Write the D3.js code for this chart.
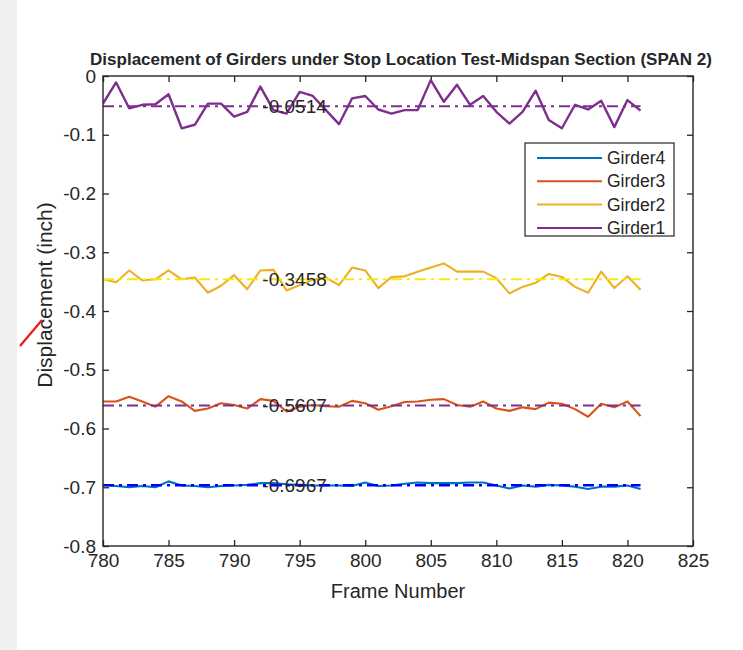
<!DOCTYPE html>
<html>
<head>
<meta charset="utf-8">
<script src="https://cdn.jsdelivr.net/npm/d3@7"></script>
<style>
  body { margin: 0; background: #ffffff; }
  svg text { font-family: "Liberation Sans", Arial, Helvetica, sans-serif; fill: #262626; }
</style>
</head>
<body>
<svg id="chart" width="743" height="650"></svg>
<script>
// Frame numbers sampled at the midspan section
const frames = [780, 781, 782, 783, 784, 785, 786, 787, 788, 789, 790, 791, 792, 793,
                794, 795, 796, 797, 798, 799, 800, 801, 802, 803, 804, 805, 806, 807,
                808, 809, 810, 811, 812, 813, 814, 815, 816, 817, 818, 819, 820, 821];

// Displacement (inch) per girder
const girder1 = [-0.047, -0.011, -0.055, -0.049, -0.048, -0.031, -0.089, -0.083, -0.047, -0.047,
                 -0.069, -0.061, -0.018, -0.058, -0.064, -0.027, -0.034, -0.058, -0.082, -0.038,
                 -0.034, -0.057, -0.064, -0.058, -0.058, -0.007, -0.044, -0.015, -0.049, -0.034,
                 -0.061, -0.081, -0.061, -0.025, -0.075, -0.089, -0.049, -0.057, -0.042, -0.087,
                 -0.041, -0.059];
const girder2 = [-0.346, -0.351, -0.331, -0.348, -0.346, -0.331, -0.346, -0.343, -0.369, -0.357,
                 -0.339, -0.363, -0.331, -0.330, -0.365, -0.356, -0.347, -0.343, -0.356, -0.326,
                 -0.331, -0.361, -0.342, -0.341, -0.333, -0.326, -0.319, -0.333, -0.333, -0.333,
                 -0.344, -0.370, -0.359, -0.352, -0.337, -0.342, -0.359, -0.369, -0.333, -0.361,
                 -0.341, -0.364];
const girder3 = [-0.554, -0.554, -0.546, -0.554, -0.563, -0.545, -0.554, -0.570, -0.566, -0.557,
                 -0.560, -0.566, -0.550, -0.553, -0.571, -0.563, -0.560, -0.562, -0.563, -0.553,
                 -0.557, -0.568, -0.562, -0.555, -0.554, -0.551, -0.550, -0.560, -0.563, -0.554,
                 -0.566, -0.570, -0.564, -0.567, -0.556, -0.558, -0.567, -0.580, -0.558, -0.564,
                 -0.554, -0.579];
const girder4 = [-0.696, -0.698, -0.700, -0.698, -0.700, -0.690, -0.697, -0.698, -0.700, -0.698,
                 -0.697, -0.696, -0.693, -0.693, -0.695, -0.696, -0.697, -0.697, -0.697, -0.698,
                 -0.692, -0.698, -0.697, -0.694, -0.692, -0.693, -0.693, -0.693, -0.692, -0.692,
                 -0.697, -0.702, -0.697, -0.699, -0.696, -0.697, -0.699, -0.703, -0.699, -0.699,
                 -0.697, -0.703];

// Legend order and colours
const seriesNames  = ["Girder4", "Girder3", "Girder2", "Girder1"];
const seriesColors = ["#0072BD", "#D95319", "#EDB120", "#7E2F8E"];

// Mean displacement of each girder (same order as seriesNames)
const meanValues = [-0.6967, -0.5607, -0.3458, -0.0514];
const meanColors = ["#0000FF", "#7E2F8E", "#F2EA12", "#7E2F8E"];
const meanLabelFrame = 792;

// Axis ticks
const xTicks = [780, 785, 790, 795, 800, 805, 810, 815, 820, 825];
const yTicks = [-0.8, -0.7, -0.6, -0.5, -0.4, -0.3, -0.2, -0.1, 0];
const yTickLabels = ["-0.8", "-0.7", "-0.6", "-0.5", "-0.4", "-0.3", "-0.2", "-0.1", "0"];

const titleText = "Displacement of Girders under Stop Location Test-Midspan Section (SPAN 2)";
const xLabelText = "Frame Number";
const yLabelText = "Displacement (inch)";

const seriesValues = [girder4, girder3, girder2, girder1];

// ---- layout ----
const plot = { left: 103, right: 693, top: 76, bottom: 546 };
const svg = d3.select("#chart");

// light grey surround of the figure window
svg.append("rect").attr("x", 0).attr("y", 0).attr("width", 743).attr("height", 650).attr("fill", "#f0f0f0");
svg.append("rect").attr("x", 17).attr("y", 0).attr("width", 743 - 17).attr("height", 650).attr("fill", "#ffffff");

const x = d3.scaleLinear().domain([780, 825]).range([plot.left, plot.right]);
const y = d3.scaleLinear().domain([-0.8, 0]).range([plot.bottom, plot.top]);

const axisColor = "#262626";
const tickFont = 19;

// bottom axis
const gx = svg.append("g").attr("transform", `translate(0,${plot.bottom})`)
  .call(d3.axisBottom(x).tickValues(xTicks).tickFormat(d3.format("d"))
        .tickSizeInner(-6).tickSizeOuter(0).tickPadding(8));
// left axis
const gy = svg.append("g").attr("transform", `translate(${plot.left},0)`)
  .call(d3.axisLeft(y).tickValues(yTicks).tickFormat((d, i) => yTickLabels[i])
        .tickSizeInner(-6).tickSizeOuter(0).tickPadding(7));
// top and right axes: ticks only
const gt = svg.append("g").attr("transform", `translate(0,${plot.top})`)
  .call(d3.axisTop(x).tickValues(xTicks).tickFormat("").tickSizeInner(-6).tickSizeOuter(0));
const gr = svg.append("g").attr("transform", `translate(${plot.right},0)`)
  .call(d3.axisRight(y).tickValues(yTicks).tickFormat("").tickSizeInner(-6).tickSizeOuter(0));

[gx, gy, gt, gr].forEach(g => {
  g.select(".domain").remove();
  g.selectAll(".tick line").attr("stroke", axisColor).attr("stroke-width", 1.3);
  g.selectAll(".tick text").attr("font-size", tickFont)
    .attr("font-family", "Liberation Sans, Arial, sans-serif").attr("fill", axisColor);
});

// clip for the data
svg.append("clipPath").attr("id", "plotClip")
  .append("rect").attr("x", plot.left).attr("y", plot.top)
  .attr("width", plot.right - plot.left).attr("height", plot.bottom - plot.top);

const dataLayer = svg.append("g").attr("clip-path", "url(#plotClip)");

const line = d3.line().x((d, i) => x(frames[i])).y(d => y(d));

// girder traces
seriesValues.forEach((vals, k) => {
  dataLayer.append("path").datum(vals)
    .attr("d", line)
    .attr("fill", "none")
    .attr("stroke", seriesColors[k])
    .attr("stroke-width", k === 3 ? 2.4 : 2.1)
    .attr("stroke-linejoin", "round");
});

// mean lines (dash-dot) across the sampled frames
meanValues.forEach((m, k) => {
  dataLayer.append("line")
    .attr("x1", x(frames[0])).attr("x2", x(frames[frames.length - 1]))
    .attr("y1", y(m)).attr("y2", y(m))
    .attr("stroke", meanColors[k])
    .attr("stroke-width", k === 0 ? 2.6 : 2)
    .attr("stroke-dasharray", "11,5,3,5");
});

// mean value labels
meanValues.forEach(m => {
  svg.append("text")
    .attr("x", x(meanLabelFrame) + 2)
    .attr("y", y(m))
    .attr("dominant-baseline", "central")
    .attr("font-size", 19)
    .attr("fill", "#000")
    .text(String(m));
});

// axes box
svg.append("rect")
  .attr("x", plot.left).attr("y", plot.top)
  .attr("width", plot.right - plot.left).attr("height", plot.bottom - plot.top)
  .attr("fill", "none").attr("stroke", axisColor).attr("stroke-width", 1.4);

// title
svg.append("text")
  .attr("x", 401)
  .attr("y", 65)
  .attr("text-anchor", "middle")
  .attr("font-size", 17)
  .attr("font-weight", "bold")
  .attr("fill", "#000")
  .text(titleText);

// axis labels
svg.append("text")
  .attr("x", (plot.left + plot.right) / 2)
  .attr("y", 598)
  .attr("text-anchor", "middle")
  .attr("font-size", 20)
  .text(xLabelText);

svg.append("text")
  .attr("transform", `translate(52,${(plot.top + plot.bottom) / 2 - 16}) rotate(-90)`)
  .attr("text-anchor", "middle")
  .attr("font-size", 21)
  .text(yLabelText);

// legend
const legend = svg.append("g");
legend.append("rect")
  .attr("x", 525).attr("y", 143).attr("width", 149).attr("height", 93)
  .attr("fill", "#ffffff").attr("stroke", axisColor).attr("stroke-width", 1.2);
seriesNames.forEach((name, k) => {
  const ly = 158 + k * 23.3;
  legend.append("line")
    .attr("x1", 537).attr("x2", 602).attr("y1", ly).attr("y2", ly)
    .attr("stroke", seriesColors[k]).attr("stroke-width", 2);
  legend.append("text")
    .attr("x", 607).attr("y", ly)
    .attr("dominant-baseline", "central")
    .attr("font-size", 17.5)
    .text(name);
});

// red stroke at the left edge of the window
svg.append("line")
  .attr("x1", 20).attr("y1", 346).attr("x2", 42).attr("y2", 320)
  .attr("stroke", "#e8191a").attr("stroke-width", 2.2);
</script>
</body>
</html>
